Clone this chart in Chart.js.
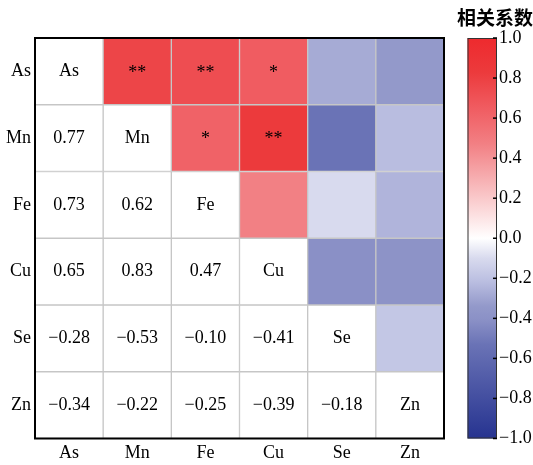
<!DOCTYPE html>
<html><head><meta charset="utf-8">
<script src="https://cdn.jsdelivr.net/npm/chart.js@4/dist/chart.umd.min.js"></script>
<style>html,body{margin:0;padding:0;background:#fff}canvas{display:block}</style>
</head><body>
<canvas id="c" width="533" height="465"></canvas>
<script>
// ---- data ----
const elements = ['As', 'Mn', 'Fe', 'Cu', 'Se', 'Zn'];
const corrAs = [1, 0.77, 0.73, 0.65, -0.28, -0.34];
const corrMn = [0.77, 1, 0.62, 0.83, -0.53, -0.22];
const corrFe = [0.73, 0.62, 1, 0.47, -0.10, -0.25];
const corrCu = [0.65, 0.83, 0.47, 1, -0.41, -0.39];
const corrSe = [-0.28, -0.53, -0.10, -0.41, 1, -0.18];
const corrZn = [-0.34, -0.22, -0.25, -0.39, -0.18, 1];
const corrRows = [corrAs, corrMn, corrFe, corrCu, corrSe, corrZn];
const starsAs = ['', '**', '**', '*', '', ''];
const starsMn = ['', '', '*', '**', '', ''];
const starsFe = ['', '', '', '', '', ''];
const starsCu = ['', '', '', '', '', ''];
const starsSe = ['', '', '', '', '', ''];
const starsZn = ['', '', '', '', '', ''];
const starRows = [starsAs, starsMn, starsFe, starsCu, starsSe, starsZn];
const colorbarTicks = [-1.0, -0.8, -0.6, -0.4, -0.2, 0.0, 0.2, 0.4, 0.6, 0.8, 1.0];
const colorbarTitle = '相关系数';

// ---- colour map (style) ----
const cmapStops  = [-1, -0.53, -0.41, -0.34, -0.22, -0.10, 0, 0.47, 0.65, 0.83, 1];
const cmapColors = [[38,51,144],[106,115,182],[138,144,198],[147,153,202],[185,189,224],[216,218,238],
                    [255,255,255],[242,128,132],[240,92,97],[236,58,60],[238,42,46]];
function rgb(c){ return `rgb(${c.map(Math.round).join(',')})`; }
function cmap(v){
  for (let i = 0; i < cmapStops.length - 1; i++){
    if (v <= cmapStops[i+1]){
      const t = (v - cmapStops[i]) / (cmapStops[i+1] - cmapStops[i]);
      return rgb(cmapColors[i].map((a, k) => a + (cmapColors[i+1][k] - a) * t));
    }
  }
  return rgb(cmapColors[cmapColors.length - 1]);
}
function fmt(v){ return (v < 0 ? '\u2212' : '') + Math.abs(v).toFixed(2); }

const SERIF = "'Liberation Serif', 'Times New Roman', serif";

const datasets = corrRows.map((row, r) => ({
  label: elements[r],
  data: elements.map((_, c) => [r, r + 1]),
  backgroundColor: row.map((v, c) => c > r ? cmap(v) : '#ffffff'),
  borderColor: '#c6c6c6',
  borderWidth: 1,
  borderSkipped: false,
  grouped: false,
  barPercentage: 1,
  categoryPercentage: 1
}));

const overlay = {
  id: 'overlay',
  afterDatasetsDraw(chart){
    const {ctx, chartArea: a, scales: {x, y, cb}} = chart;
    ctx.save();
    ctx.fillStyle = '#000';
    ctx.textAlign = 'center';
    ctx.textBaseline = 'middle';
    corrRows.forEach((row, r) => row.forEach((v, c) => {
      const px = x.getPixelForValue(c), py = y.getPixelForValue(r + 0.5);
      ctx.font = `18px ${SERIF}`;
      if (r === c) ctx.fillText(elements[r], px, py);
      else if (r > c) ctx.fillText(fmt(v), px, py);
      else if (starRows[r][c]) ctx.fillText(starRows[r][c], px, py + 1.5);
    }));
    // frame
    ctx.lineWidth = 2;
    ctx.strokeStyle = '#000';
    ctx.strokeRect(a.left, a.top, a.width, a.height);
    // colour bar
    const top = cb.getPixelForValue(1), bot = cb.getPixelForValue(-1);
    const L = a.right + 23.5, R = a.right + 53;
    const g = ctx.createLinearGradient(0, top, 0, bot);
    cmapStops.forEach((s, i) => g.addColorStop((1 - s) / 2, rgb(cmapColors[i])));
    ctx.fillStyle = g;
    ctx.fillRect(L, top, R - L, bot - top);
    ctx.lineWidth = 1;
    ctx.strokeStyle = '#333';
    ctx.strokeRect(L + 0.5, top + 0.5, R - L - 1, bot - top - 1);
    ctx.lineWidth = 1.5;
    ctx.strokeStyle = '#000';
    colorbarTicks.forEach(v => {
      const yy = cb.getPixelForValue(v);
      ctx.beginPath(); ctx.moveTo(R - 4, yy); ctx.lineTo(R, yy); ctx.stroke();
    });
    ctx.restore();
  }
};

function noPad(s){ s.paddingTop = 0; s.paddingBottom = 0; s.paddingLeft = 0; s.paddingRight = 0; }

new Chart(document.getElementById('c'), {
  type: 'bar',
  data: { labels: elements, datasets },
  options: {
    responsive: false,
    animation: false,
    events: [],
    layout: { padding: 0 },
    plugins: {
      legend: { display: false },
      tooltip: { enabled: false },
      title: {
        display: true, text: colorbarTitle, align: 'end', color: '#000',
        font: { family: "'Noto Sans CJK SC', sans-serif", size: 19, weight: 'bold', lineHeight: 1.2 },
        padding: { top: 6, bottom: 9.2 }
      }
    },
    scales: {
      x: {
        type: 'category',
        grid: { display: false, drawTicks: false },
        border: { display: false },
        ticks: { color: '#000', font: { family: SERIF, size: 18 }, padding: 4 },
        afterFit(s){ s.height = 26.5; noPad(s); }
      },
      y: {
        type: 'linear', min: 0, max: 6, reverse: true,
        grid: { display: false, drawTicks: false },
        border: { display: false },
        afterBuildTicks(s){ s.ticks = elements.map((e, i) => ({ value: i + 0.5 })); },
        ticks: { autoSkip: false, color: '#000', font: { family: SERIF, size: 18 }, padding: 4,
                 callback: (v, i) => elements[i] },
        afterFit(s){ s.width = 35; noPad(s); }
      },
      cb: {
        type: 'linear', position: 'right', display: true, min: -1, max: 1,
        grid: { display: false, drawTicks: false },
        border: { display: false },
        afterBuildTicks(s){ s.ticks = colorbarTicks.map(v => ({ value: v })); },
        ticks: { autoSkip: false, color: '#000', font: { family: SERIF, size: 18 }, padding: 55,
                 callback: (v) => (v < 0 ? '\u2212' : '') + Math.abs(v).toFixed(1) },
        afterFit(s){ s.width = 89; noPad(s); }
      }
    }
  },
  plugins: [overlay]
});
</script>
</body></html>
